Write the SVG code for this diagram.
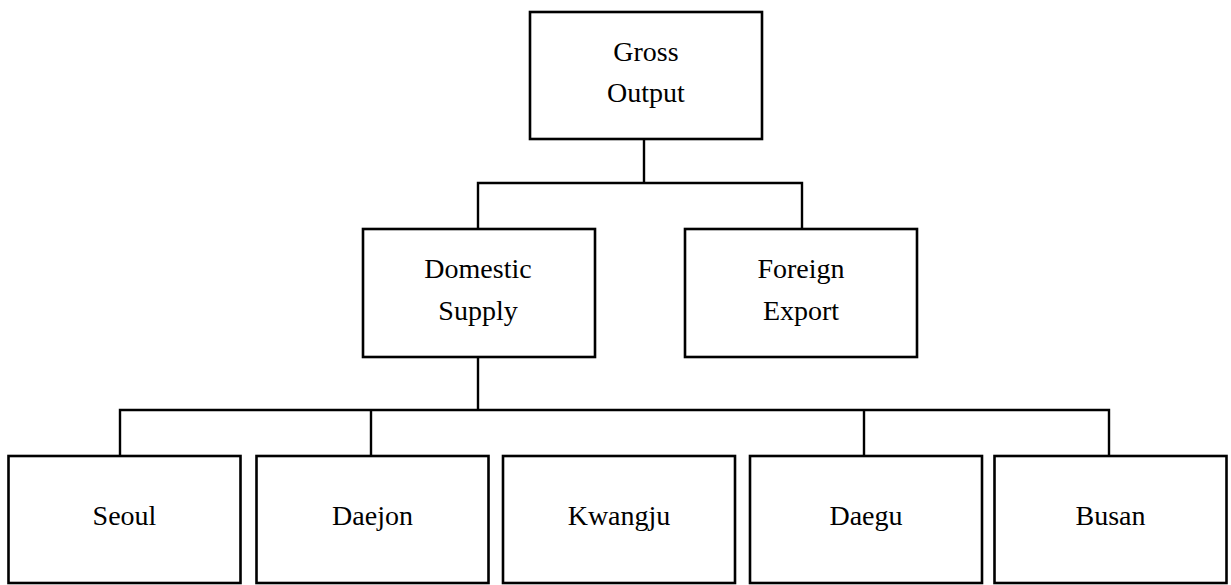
<svg xmlns="http://www.w3.org/2000/svg" width="1231" height="585" viewBox="0 0 1231 585">
<style>
.box{fill:#fff;stroke:#000;stroke-width:2.6}
.ln{fill:none;stroke:#000;stroke-width:2.4}
text{font-family:"Liberation Serif","Times New Roman",serif;font-size:28px;fill:#000;text-anchor:middle}
</style>
<rect width="1231" height="585" fill="#fff"/>
<g id="connectors">
<path class="ln" d="M644,139 V183 M478,229 V183 H802 V229"/>
<path class="ln" d="M478,357 V410 M120,456 V410 H1109 V456 M371,410 V456 M864,410 V456"/>
</g>
<g id="gross"><rect class="box" x="530" y="12" width="232" height="127"/><text x="646" y="61">Gross</text><text x="646" y="102">Output</text></g>
<g id="domestic"><rect class="box" x="363" y="229" width="232" height="128"/><text x="478" y="278">Domestic</text><text x="478" y="320">Supply</text></g>
<g id="foreign"><rect class="box" x="685" y="229" width="232" height="128"/><text x="801" y="278">Foreign</text><text x="801" y="320">Export</text></g>
<g id="seoul"><rect class="box" x="8.5" y="456" width="232" height="127"/><text x="124.5" y="525">Seoul</text></g>
<g id="daejon"><rect class="box" x="256.5" y="456" width="232" height="127"/><text x="372.5" y="525">Daejon</text></g>
<g id="kwangju"><rect class="box" x="503" y="456" width="232" height="127"/><text x="619" y="525">Kwangju</text></g>
<g id="daegu"><rect class="box" x="750" y="456" width="232" height="127"/><text x="866" y="525">Daegu</text></g>
<g id="busan"><rect class="box" x="994.5" y="456" width="232" height="127"/><text x="1110.5" y="525">Busan</text></g>
</svg>
